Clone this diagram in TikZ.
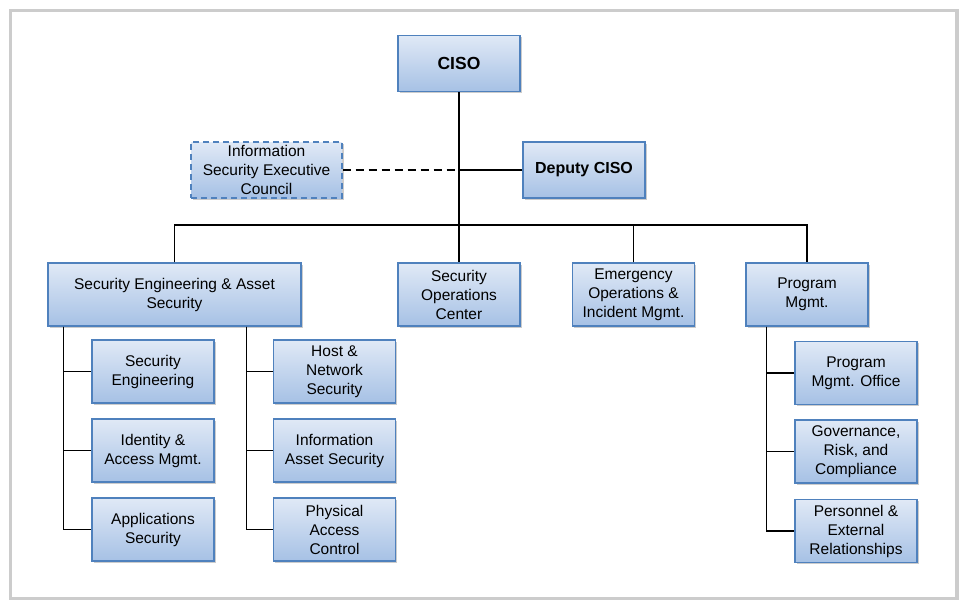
\documentclass[tikz,border=0pt]{standalone}
\usepackage{fontspec}
\setmainfont{Liberation Sans}
\usetikzlibrary{positioning,shadows,calc}

\definecolor{boxline}{RGB}{79,129,189}
\definecolor{boxtop}{RGB}{224,233,246}
\definecolor{boxbot}{RGB}{166,193,229}
\definecolor{framegray}{RGB}{204,204,204}

\tikzset{
    orgbox/.style={draw=boxline, line width=1.1pt, top color=boxtop, bottom color=boxbot,
        minimum width=122pt, minimum height=63pt, align=center, inner sep=2pt,
        font=\fontsize{15.5}{19}\selectfont,
        drop shadow={shadow xshift=1.5pt, shadow yshift=-1.5pt, fill=black!40, opacity=0.5}},
    headbox/.style={orgbox, minimum height=56pt, font=\fontsize{16}{19}\selectfont\bfseries},
    link/.style={line width=1.4pt, black},
}

\begin{document}
\begin{tikzpicture}[x=1pt, y=-1pt]
    % Frame
    \useasboundingbox (0,0) rectangle (967,605);
    \draw[framegray, line width=3.5pt] (10.5,10.5) rectangle (957,598.5);

    % Top
    \node[headbox, font=\fontsize{17.5}{20}\selectfont\bfseries] (ciso) at (459,63.5) {CISO};
    \node[headbox] (deputy) at (584,170) {Deputy CISO};
    \node[orgbox, dash pattern=on 6pt off 4pt, minimum width=151pt, minimum height=56pt] (council) at (266.5,170) {Information\\Security Executive\\Council};

    % Second level
    \node[orgbox, minimum width=253pt] (seas) at (174.5,294.5) {Security Engineering \& Asset\\Security};
    \node[orgbox] (soc) at (459,294.5) {Security\\Operations\\Center};
    \node[orgbox] (eoim) at (633.5,294.5) {Emergency\\Operations \&\\Incident Mgmt.};
    \node[orgbox] (pm) at (807,294.5) {Program\\Mgmt.};

    % Security engineering teams
    \node[orgbox] (se) at (153,371.5) {Security\\Engineering};
    \node[orgbox] (iam) at (153,450.5) {Identity \&\\Access Mgmt.};
    \node[orgbox] (apps) at (153,529.5) {Applications\\Security};
    \node[orgbox] (hns) at (334.5,371.5) {Host \&\\Network\\Security};
    \node[orgbox] (ias) at (334.5,450.5) {Information\\Asset Security};
    \node[orgbox] (pac) at (334.5,529.5) {Physical\\Access\\Control};

    % Program teams
    \node[orgbox] (pmo) at (856,373) {Program\\Mgmt. Office};
    \node[orgbox] (grc) at (856,451.5) {Governance,\\Risk, and\\Compliance};
    \node[orgbox] (pex) at (856,531) {Personnel \&\\External\\Relationships};

    % Connectors
    \coordinate (bus) at (459,225);
    \draw[link] (ciso.south) -- (bus);
    \draw[link] (deputy.west) -- (deputy.west -| ciso.south);
    \draw[link, dash pattern=on 8pt off 5pt, line width=1.1pt] (council.east) -- (council.east -| ciso.south);
    \draw[link] (seas.north) |- (bus) -| (pm.north);
    \draw[link] (bus) -- (soc.north);
    \draw[link] (eoim.north) -- (eoim.north |- bus);

    \coordinate (spineA) at ($(seas.south west)+(16,0)$);
    \coordinate (spineB) at ($(seas.south east)+(-55,0)$);
    \coordinate (spineC) at ($(pm.south west)+(21,0)$);
    \foreach \b in {se,iam,apps}
        \draw[link] (spineA) |- (\b.west);
    \foreach \b in {hns,ias,pac}
        \draw[link] (spineB) |- (\b.west);
    \foreach \b in {pmo,grc,pex}
        \draw[link] (spineC) |- (\b.west);
\end{tikzpicture}
\end{document}
